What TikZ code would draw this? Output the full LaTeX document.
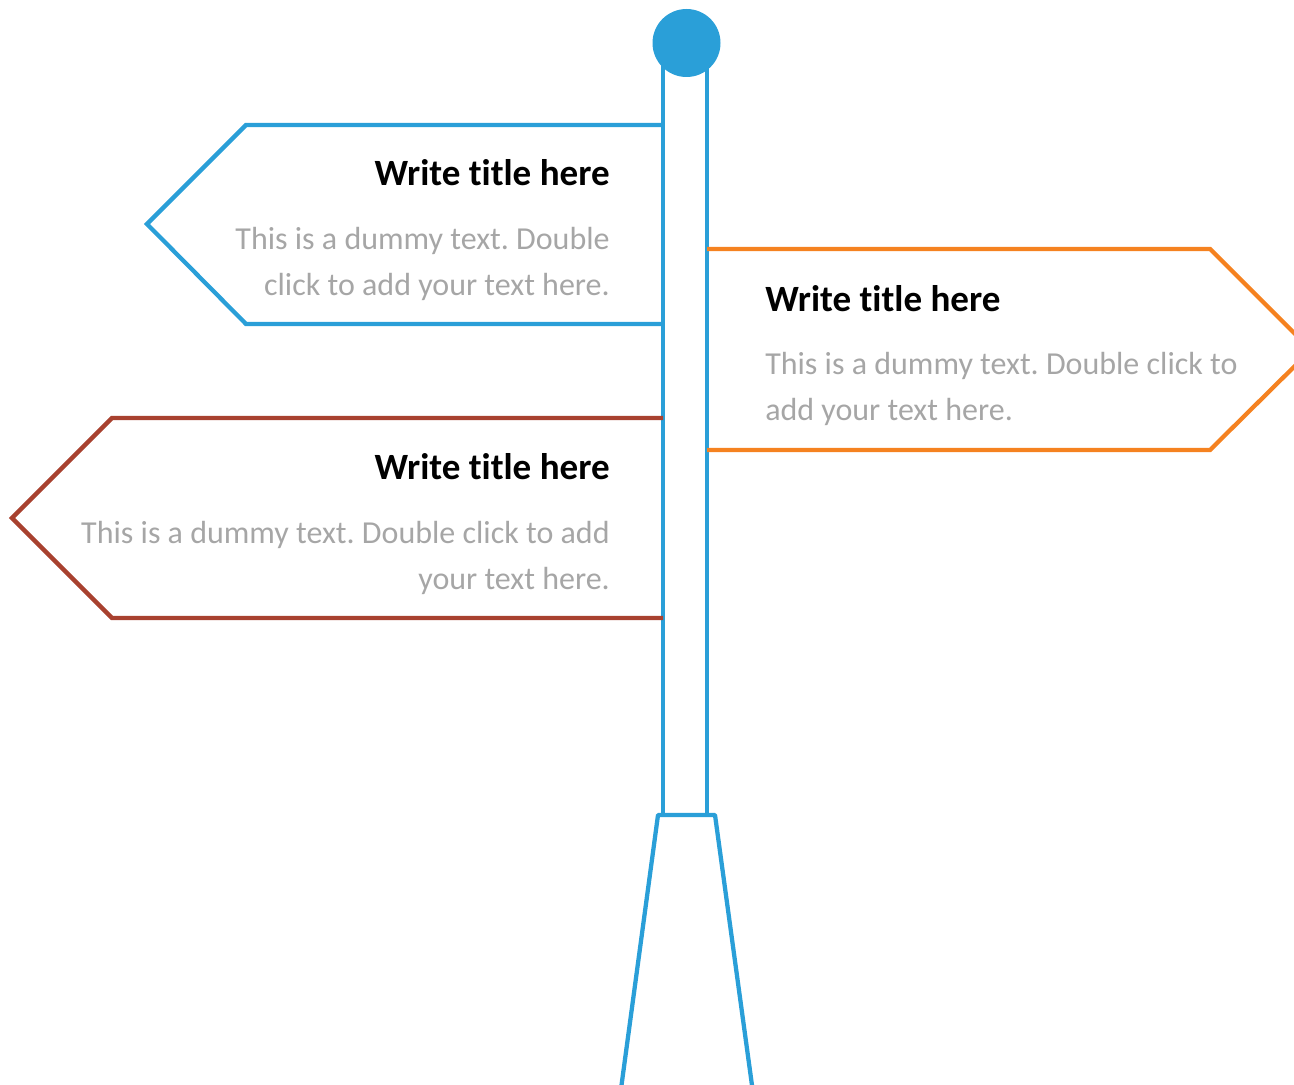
\documentclass[tikz,border=0pt]{standalone}
\usepackage{fontspec}
\setmainfont{Carlito}[Ligatures=CommonOff]
\definecolor{postblue}{HTML}{2A9FD8}
\definecolor{signorange}{HTML}{F58220}
\definecolor{signred}{HTML}{A8412F}
\definecolor{bodygray}{HTML}{A6A6A6}
\tikzset{
  signline/.style={line width=3.2pt, line join=miter},
  titletext/.style={inner sep=0pt, font=\frenchspacing\fontsize{27.8}{32}\selectfont\bfseries, text=black},
  bodytext/.style={inner sep=0pt, font=\frenchspacing\fontsize{24}{30}\selectfont, text=bodygray},
}
\begin{document}
\begin{tikzpicture}[x=0.75pt, y=-0.75pt]
\useasboundingbox (0,0) rectangle (1294,1084);
\clip (0,0) rectangle (1294,1084);
% post
\draw[signline, postblue] (663,50) -- (663,816);
\draw[signline, postblue] (707,50) -- (707,816);
% base
\draw[signline, postblue, line join=round] (619.5,1100) -- (658,815) -- (715,815) -- (754,1100);
% blue sign (left)
\draw[signline, postblue] (663,125) -- (246,125) -- (147,224) -- (246,324) -- (663,324);
% orange sign (right)
\draw[signline, signorange] (707,249) -- (1210,249) -- (1311,350) -- (1210,450) -- (707,450);
% red sign (left)
\draw[signline, signred] (663,418) -- (112,418) -- (12,518) -- (112,618) -- (663,618);
% knob
\fill[postblue] (686.5,43) circle[radius=34];
% texts blue
\node[titletext, anchor=base east] (t1) at (610,186) {Write title here};
\node[bodytext, anchor=base east] (b1a) at (610,249) {This is a dummy text. Double};
\node[bodytext, anchor=base east] (b1b) at (610,295) {click to add your text here.};
% texts orange
\node[titletext, anchor=base west] (t2) at (765,311) {Write title here};
\node[bodytext, anchor=base west] (b2a) at (765,374) {This is a dummy text. Double click to};
\node[bodytext, anchor=base west] (b2b) at (765,420) {add your text here.};
% texts red
\node[titletext, anchor=base east] (t3) at (610,479) {Write title here};
\node[bodytext, anchor=base east] (b3a) at (610,543) {This is a dummy text. Double click to add};
\node[bodytext, anchor=base east] (b3b) at (610,589) {your text here.};
\end{tikzpicture}
\end{document}
